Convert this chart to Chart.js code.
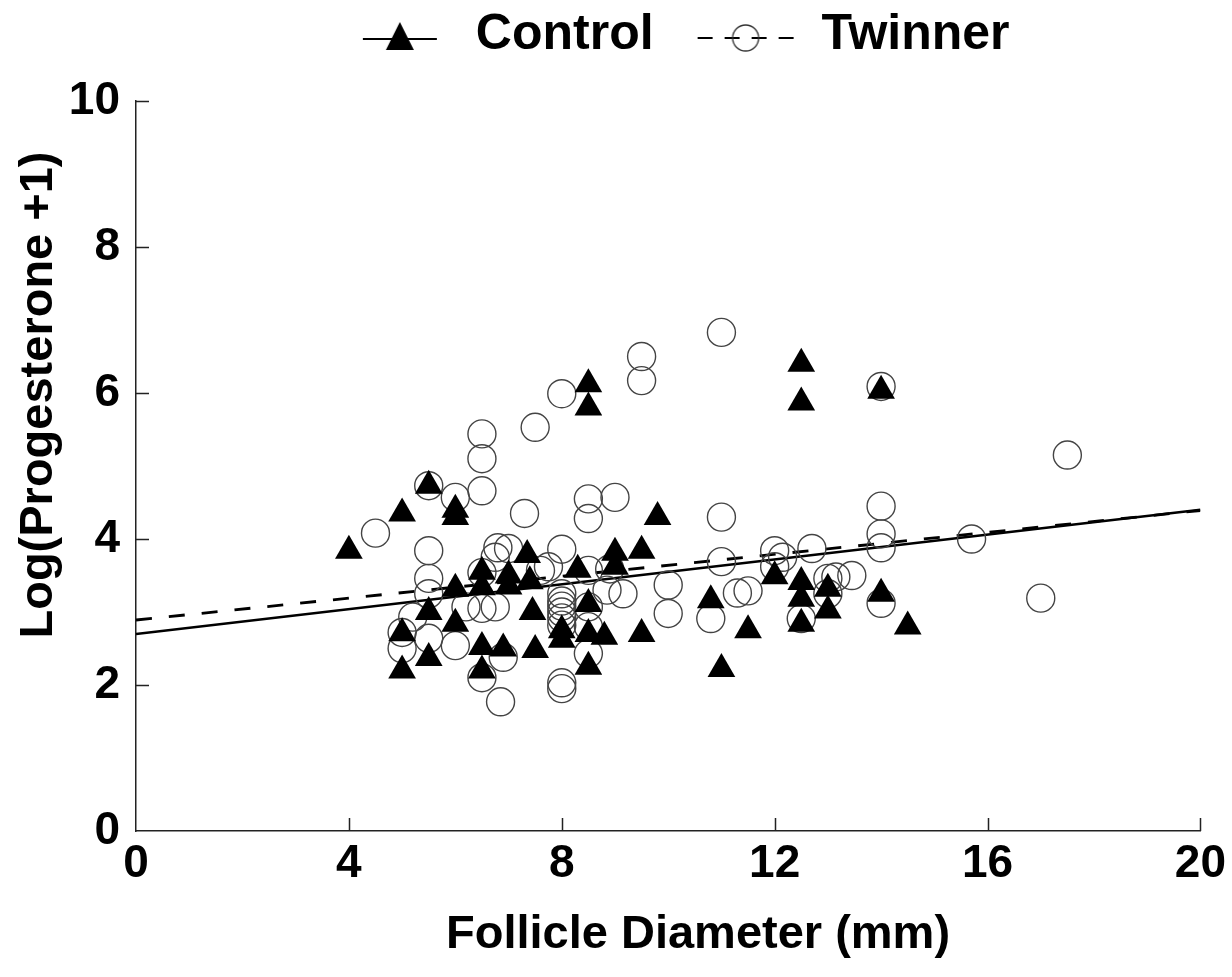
<!DOCTYPE html>
<html>
<head>
<meta charset="utf-8">
<script src="https://cdn.jsdelivr.net/npm/chart.js@4.4.0/dist/chart.umd.min.js"></script>
<style>
  html, body { margin: 0; padding: 0; background: #fff; }
  #wrap { width: 1232px; height: 977px; }
</style>
</head>
<body>
<div id="wrap"><canvas id="scatterChart"></canvas></div>
<script>
// values
var controlX = [4.0, 5.0, 5.0, 5.0, 5.5, 5.5, 5.5, 6.0, 6.0, 6.0, 6.0, 6.5, 6.5, 6.5, 6.5, 6.9, 7.0, 7.0, 7.35, 7.4,
                7.45, 7.5, 8.0, 8.0, 8.3, 8.5, 8.5, 8.5, 8.5, 8.5, 8.8, 9.0, 9.0, 9.5, 9.5, 9.8, 10.8, 11.0, 11.5, 12.0,
                12.5, 12.5, 12.5, 12.5, 12.5, 13.0, 13.0, 14.0, 14.0, 14.5];
var controlY = [3.84, 4.35, 2.71, 2.2, 4.73, 3.0, 2.37, 4.4, 4.3, 3.32, 2.84, 3.55, 3.34, 2.52, 2.2, 2.5, 3.5, 3.35, 3.78, 3.42,
                3.0, 2.48, 2.75, 2.62, 3.58, 6.12, 5.8, 3.11, 2.7, 2.25, 2.66, 3.81, 3.62, 3.84, 2.7, 4.3, 3.16, 2.22, 2.75, 3.49,
                6.4, 5.87, 3.41, 3.18, 2.84, 3.32, 3.02, 6.03, 3.25, 2.8];

var twinnerX = [4.5, 5.0, 5.0, 5.2, 5.5, 5.5, 5.5, 5.5, 5.5, 6.0, 6.0, 6.2, 6.5, 6.5, 6.5, 6.5, 6.5, 6.5, 6.75, 6.8,
                7.0, 6.75, 6.9, 6.85, 7.3, 7.5, 7.6, 7.75, 8.0, 8.0, 8.0, 8.0, 8.0, 8.0, 8.0, 8.0, 8.0, 8.0, 8.5, 8.5,
                8.5, 8.5, 8.5, 8.5, 8.9, 8.85, 9.0, 9.15, 9.5, 9.5, 10.0, 10.0, 10.8, 11.0, 11.0, 11.0, 11.3, 11.5, 12.0, 12.0,
                12.15, 12.5, 12.7, 13.0, 13.0, 13.15, 13.45, 14.0, 14.0, 14.0, 14.0, 14.0, 15.7, 17.0, 17.5];
var twinnerY = [4.08, 2.72, 2.5, 2.93, 4.73, 3.84, 3.46, 3.25, 2.64, 4.57, 2.54, 3.07, 5.44, 5.1, 4.66, 3.54, 3.05, 2.1, 3.75, 3.88,
                3.87, 3.07, 2.38, 1.77, 4.35, 5.53, 3.57, 3.62, 5.99, 3.86, 3.25, 3.15, 3.08, 3.0, 2.92, 2.82, 2.03, 1.95, 4.55, 4.28,
                3.57, 3.07, 2.8, 2.43, 3.59, 3.3, 4.57, 3.25, 6.5, 6.17, 3.37, 2.98, 2.91, 6.83, 4.3, 3.69, 3.26, 3.29, 3.84, 3.62,
                3.75, 2.91, 3.87, 3.46, 3.25, 3.48, 3.5, 6.09, 4.45, 4.07, 3.88, 3.12, 4.0, 3.19, 5.15];

// regression lines (end points)
var fitX = [0, 20];
var controlFitY = [2.70, 4.40];
var twinnerFitY = [2.89, 4.39];

var xTicks = [0, 4, 8, 12, 16, 20];
var yTicks = [0, 2, 4, 6, 8, 10];

var FONT = "'Liberation Sans', Arial, sans-serif";
Chart.defaults.font.family = FONT;
Chart.defaults.color = '#000';

function toPoints(xs, ys) {
    return xs.map(function (x, i) { return { x: x, y: ys[i] }; });
}

// legend icons: line + marker, like the original key
function makeIcon(kind) {
    var c = document.createElement('canvas');
    c.width = 160;
    c.height = 44;
    var g = c.getContext('2d');
    var cx = 91;
    g.strokeStyle = '#000';
    g.lineWidth = 2;
    if (kind === 'control') {
        var cy = 26;
        g.beginPath();
        g.moveTo(cx - 37, cy);
        g.lineTo(cx + 37, cy);
        g.stroke();
        g.fillStyle = '#000';
        g.beginPath();
        g.moveTo(cx, cy - 17);
        g.lineTo(cx + 14, cy + 11);
        g.lineTo(cx - 14, cy + 11);
        g.closePath();
        g.fill();
    } else {
        var cy2 = 25;
        g.setLineDash([15, 12]);
        g.beginPath();
        g.moveTo(cx - 48, cy2);
        g.lineTo(cx + 48, cy2);
        g.stroke();
        g.setLineDash([]);
        g.lineWidth = 1.3;
        g.strokeStyle = '#333';
        g.beginPath();
        g.arc(cx, cy2, 13, 0, Math.PI * 2);
        g.stroke();
    }
    return c;
}
var controlIcon = makeIcon('control');
var twinnerIcon = makeIcon('twinner');

// ticks point inward + axis titles
var axisExtras = {
    id: 'axisExtras',
    afterDraw: function (chart) {
        var ctx = chart.ctx, area = chart.chartArea;
        var xs = chart.scales.x, ys = chart.scales.y;
        ctx.save();
        ctx.strokeStyle = '#222';
        ctx.lineWidth = 1.5;
        ctx.beginPath();
        xs.ticks.forEach(function (t) {
            if (t.value === 0) return;
            var px = Math.round(xs.getPixelForValue(t.value)) + 0.5;
            ctx.moveTo(px, area.bottom);
            ctx.lineTo(px, area.bottom - 13);
        });
        ys.ticks.forEach(function (t) {
            if (t.value === 0) return;
            var py = Math.round(ys.getPixelForValue(t.value)) + 0.5;
            ctx.moveTo(area.left, py);
            ctx.lineTo(area.left + 13, py);
        });
        ctx.stroke();

        ctx.fillStyle = '#000';
        ctx.font = 'bold 47px ' + FONT;
        ctx.textAlign = 'center';
        ctx.textBaseline = 'alphabetic';
        ctx.fillText('Follicle Diameter (mm)', 698, 948);
        ctx.translate(52, 395);
        ctx.rotate(-Math.PI / 2);
        ctx.fillText('Log(Progesterone +1)', 0, 0);
        ctx.restore();
    }
};

var ctx = document.getElementById('scatterChart').getContext('2d');
var myChart = new Chart(ctx, {
    type: 'scatter',
    data: {
        datasets: [{
            label: 'Control',
            data: toPoints(controlX, controlY),
            pointStyle: 'triangle',
            pointRadius: 16,
            backgroundColor: '#000',
            borderColor: '#000',
            borderWidth: 0
        }, {
            label: 'Twinner',
            data: toPoints(twinnerX, twinnerY),
            pointStyle: 'circle',
            pointRadius: 14,
            backgroundColor: 'rgba(0,0,0,0)',
            borderColor: '#444',
            borderWidth: 1.4
        }, {
            label: 'Control fit',
            data: toPoints(fitX, controlFitY),
            showLine: true,
            pointRadius: 0,
            borderColor: '#000',
            borderWidth: 2.5
        }, {
            label: 'Twinner fit',
            data: toPoints(fitX, twinnerFitY),
            showLine: true,
            pointRadius: 0,
            borderColor: '#000',
            borderWidth: 2.8,
            borderDash: [16, 17]
        }]
    },
    options: {
        responsive: true,
        maintainAspectRatio: false,
        animation: false,
        events: [],
        layout: { padding: { left: 0, right: 24, top: -9, bottom: 0 } },
        plugins: {
            tooltip: { enabled: false },
            legend: {
                position: 'top',
                fullSize: false,
                labels: {
                    usePointStyle: true,
                    pointStyleWidth: 124,
                    padding: 19,
                    color: '#000',
                    font: { size: 50, weight: 'bold' },
                    generateLabels: function () {
                        return [
                            { text: 'Control', pointStyle: controlIcon, fillStyle: '#000', strokeStyle: '#000', lineWidth: 0, hidden: false, datasetIndex: 0 },
                            { text: 'Twinner', pointStyle: twinnerIcon, fillStyle: '#000', strokeStyle: '#000', lineWidth: 0, hidden: false, datasetIndex: 1 }
                        ];
                    }
                }
            },
            subtitle: {
                display: true,
                text: '',
                weight: 500,
                font: { size: 10 },
                padding: { top: 0, bottom: 19 }
            }
        },
        scales: {
            x: {
                type: 'linear',
                min: 0,
                max: 20,
                afterBuildTicks: function (s) { s.ticks = xTicks.map(function (v) { return { value: v }; }); },
                afterFit: function (s) { s.height = 146; },
                grid: { display: false, drawTicks: false },
                border: { display: true, color: '#222', width: 1.5 },
                ticks: { padding: 6, color: '#000', font: { size: 46, weight: 'bold' } }
            },
            y: {
                type: 'linear',
                min: 0,
                max: 10,
                afterBuildTicks: function (s) { s.ticks = yTicks.map(function (v) { return { value: v }; }); },
                afterFit: function (s) { s.width = 136; },
                grid: { display: false, drawTicks: false },
                border: { display: true, color: '#222', width: 1.5 },
                ticks: { padding: 16, color: '#000', font: { size: 46, weight: 'bold' } }
            }
        }
    },
    plugins: [axisExtras]
});
</script>
</body>
</html>
